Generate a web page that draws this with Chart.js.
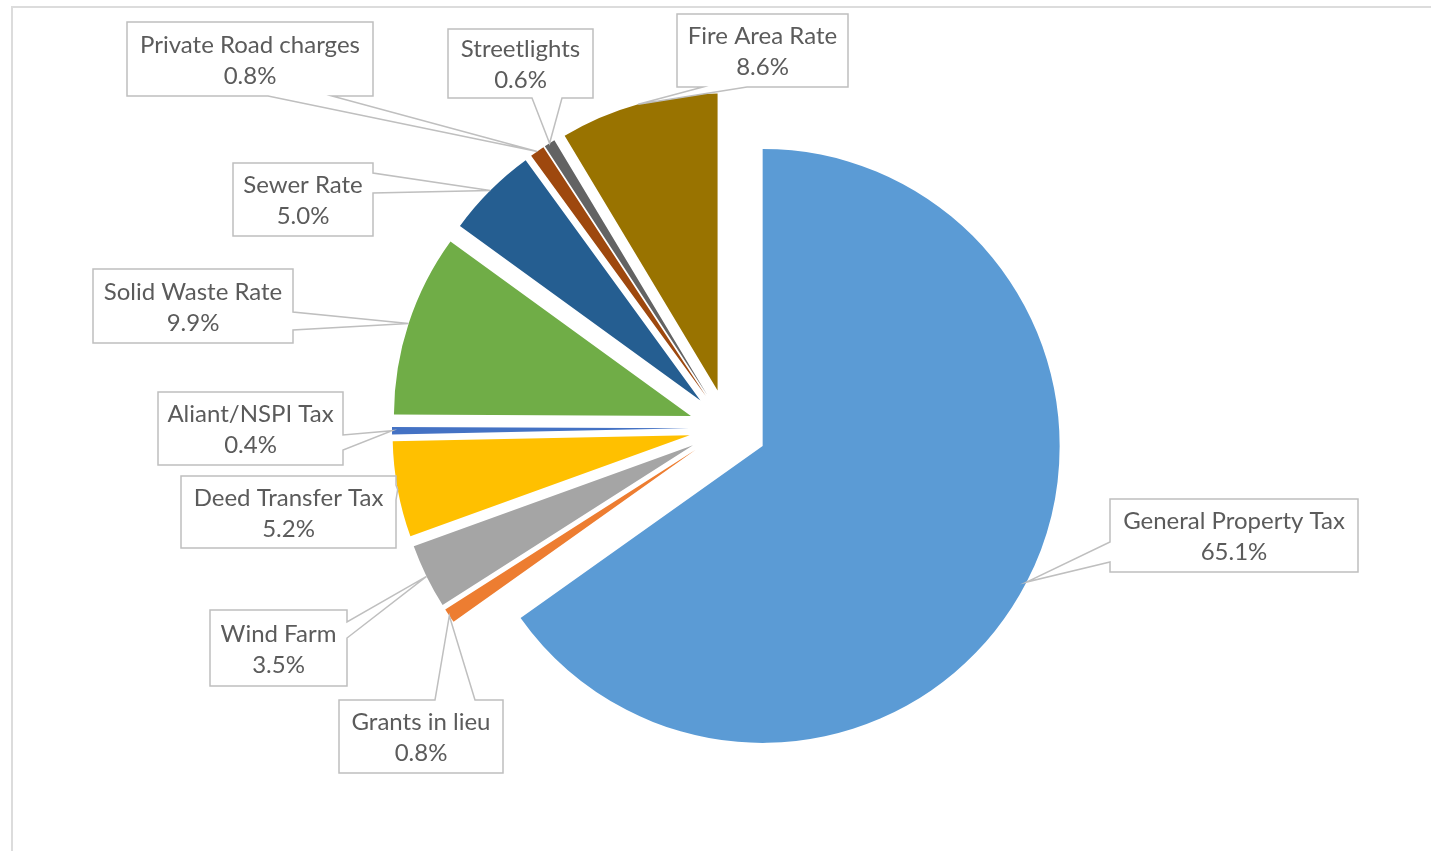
<!DOCTYPE html>
<html>
<head>
<meta charset="utf-8">
<script src="https://cdn.jsdelivr.net/npm/chart.js@4"></script>
<style>
  html, body { margin: 0; padding: 0; background: #ffffff; overflow: hidden; }
  #wrap { position: absolute; left: 0; top: 0; width: 1431px; height: 851px; }
  #frame { position: absolute; left: 11px; top: 6px; width: 1440px; height: 900px;
           border-top: 2px solid #dcdcdc; border-left: 2px solid #dcdcdc; pointer-events: none; }
</style>
</head>
<body>
<div id="wrap"><canvas id="c"></canvas></div>
<div id="frame"></div>
<script>
// ---- data ----
const categories = ['General Property Tax', 'Grants in lieu', 'Wind Farm', 'Deed Transfer Tax',
  'Aliant/NSPI Tax', 'Solid Waste Rate', 'Sewer Rate', 'Private Road charges', 'Streetlights', 'Fire Area Rate'];
const shares = [65.1, 0.8, 3.5, 5.2, 0.4, 9.9, 5.0, 0.8, 0.6, 8.6];
const sliceColors = ['#5B9BD5', '#ED7D31', '#A5A5A5', '#FFC000', '#4472C4',
  '#70AD47', '#255E91', '#9E480E', '#636363', '#997300'];

// ---- layout of the callout boxes (pixels): [left, top, right, bottom], wedge side and span ----
const calloutBoxes = [
  [1110, 499, 1358, 572], [339, 700, 503, 773], [210, 610, 347, 686], [181, 476, 396, 548],
  [158, 392, 343, 465], [93, 269, 293, 343], [233, 163, 373, 236], [127, 22, 373, 96],
  [448, 29, 593, 98], [677, 14, 848, 87]
];
const calloutWedges = [
  ['left', 542, 562], ['top', 435, 475], ['right', 622, 638], ['right', 485, 500],
  ['right', 435, 450], ['right', 312, 330], ['right', 173, 193], ['bottom', 268, 332],
  ['bottom', 532, 562], ['bottom', 703, 747]
];
const EXPLODE = 39;
const RADIUS = 297;
const FONT = '24px Lato';
const TEXT_COLOR = '#5b5b5b';
const BOX_COLOR = '#bfbfbf';

const explodePlugin = {
  id: 'explode',
  beforeDatasetDraw(chart, args) {
    const ctx = chart.ctx;
    args.meta.data.forEach(arc => {
      const mid = (arc.startAngle + arc.endAngle) / 2;
      ctx.save();
      ctx.translate(Math.cos(mid) * EXPLODE, Math.sin(mid) * EXPLODE);
      arc.draw(ctx);
      ctx.restore();
    });
    return false;
  }
};

const calloutPlugin = {
  id: 'callouts',
  afterDraw(chart) {
    const ctx = chart.ctx;
    const meta = chart.getDatasetMeta(0);
    meta.data.forEach((arc, i) => {
      const mid = (arc.startAngle + arc.endAngle) / 2;
      const r = arc.outerRadius + EXPLODE;
      const tx = arc.x + Math.cos(mid) * r;
      const ty = arc.y + Math.sin(mid) * r;
      const [l, t, rr, b] = calloutBoxes[i];
      const [side, a1, a2] = calloutWedges[i];
      ctx.save();
      ctx.beginPath();
      ctx.moveTo(l, t);
      if (side === 'top') { ctx.lineTo(a1, t); ctx.lineTo(tx, ty); ctx.lineTo(a2, t); }
      ctx.lineTo(rr, t);
      if (side === 'right') { ctx.lineTo(rr, a1); ctx.lineTo(tx, ty); ctx.lineTo(rr, a2); }
      ctx.lineTo(rr, b);
      if (side === 'bottom') { ctx.lineTo(a2, b); ctx.lineTo(tx, ty); ctx.lineTo(a1, b); }
      ctx.lineTo(l, b);
      if (side === 'left') { ctx.lineTo(l, a2); ctx.lineTo(tx, ty); ctx.lineTo(l, a1); }
      ctx.closePath();
      ctx.fillStyle = '#ffffff';
      ctx.fill();
      ctx.lineWidth = 1.5;
      ctx.strokeStyle = BOX_COLOR;
      ctx.stroke();
      ctx.fillStyle = TEXT_COLOR;
      ctx.font = FONT;
      ctx.textAlign = 'center';
      ctx.textBaseline = 'middle';
      const cx = (l + rr) / 2, cy = (t + b) / 2;
      ctx.fillText(categories[i], cx, cy - 14);
      ctx.fillText(shares[i].toFixed(1) + '%', cx, cy + 17);
      ctx.restore();
    });
  }
};

new Chart(document.getElementById('c'), {
  type: 'pie',
  data: {
    labels: categories,
    datasets: [{
      data: shares,
      backgroundColor: sliceColors,
      borderWidth: 0,
      hoverOffset: 0,
      radius: RADIUS
    }]
  },
  options: {
    responsive: true,
    maintainAspectRatio: false,
    animation: false,
    devicePixelRatio: 1,
    layout: { padding: { left: 200, right: 175, top: 100, bottom: 95 } },
    plugins: { legend: { display: false }, tooltip: { enabled: false } },
    events: []
  },
  plugins: [explodePlugin, calloutPlugin]
});
</script>
</body>
</html>
